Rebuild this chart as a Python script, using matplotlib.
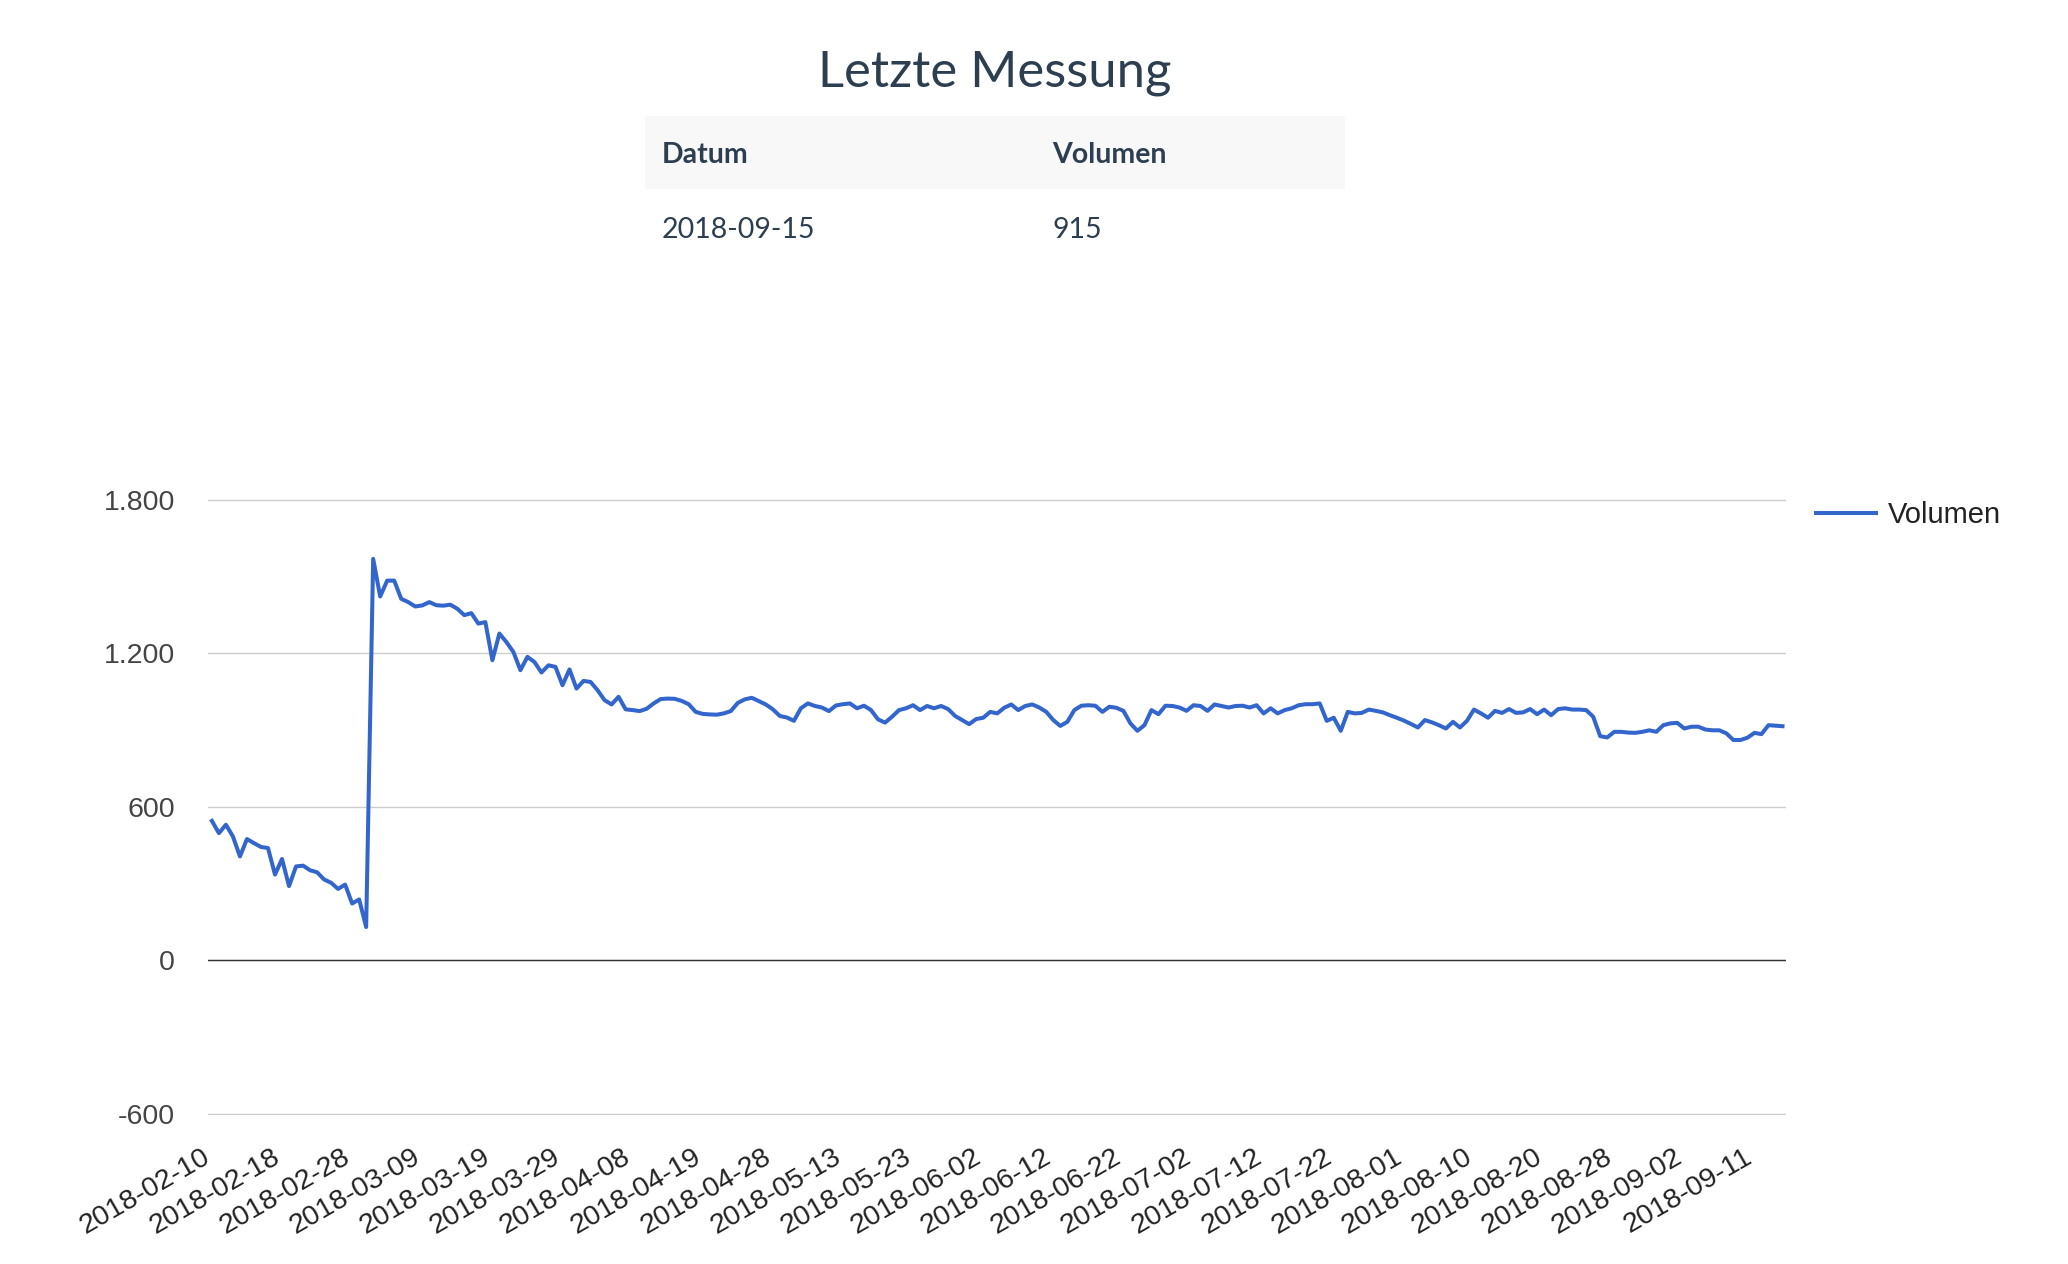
import numpy as np
import matplotlib.pyplot as plt
from matplotlib.patches import Rectangle
from matplotlib.transforms import ScaledTranslation

volumen = [
    545, 497, 530, 484, 406, 474, 458, 443, 439, 335,
    396, 290, 367, 370, 352, 344, 316, 303, 279, 296,
    222, 238, 130, 1569, 1422, 1484, 1484, 1413, 1400, 1383,
    1387, 1400, 1388, 1386, 1390, 1374, 1349, 1357, 1316, 1322,
    1173, 1277, 1244, 1205, 1134, 1186, 1166, 1125, 1153, 1147,
    1075, 1137, 1062, 1092, 1088, 1056, 1017, 1000, 1030, 981,
    978, 974, 983, 1004, 1021, 1023, 1022, 1014, 1001, 971,
    963, 961, 960, 965, 974, 1006, 1020, 1026, 1013, 1000,
    981, 955, 949, 936, 985, 1004, 994, 988, 974, 996,
    1001, 1004, 985, 995, 978, 942, 929, 952, 978, 985,
    997, 978, 994, 985, 994, 982, 955, 939, 923, 943,
    948, 971, 965, 987, 1000, 978, 994, 1000, 988, 971,
    939, 916, 932, 978, 995, 997, 995, 971, 991, 987,
    975, 926, 897, 919, 978, 962, 995, 994, 988, 975,
    997, 994, 975, 1000, 994, 988, 994, 995, 988, 997,
    965, 985, 965, 978, 985, 997, 1001, 1001, 1004, 936,
    948, 897, 971, 965, 967, 980, 975, 969, 958, 948,
    937, 924, 910, 939, 930, 919, 906, 932, 910, 936,
    980, 965, 948, 975, 967, 982, 967, 969, 982, 962,
    980, 958, 982, 985, 980, 980, 978, 952, 876, 871,
    893, 893, 890, 889, 893, 899, 893, 919, 926, 928,
    906, 913, 913, 902, 899, 899, 887, 861, 861, 870,
    889, 884, 919, 917, 915,
]

# every 10th measurement gets a date label on the axis
tick_labels = [
    '2018-02-10', '2018-02-18', '2018-02-28', '2018-03-09', '2018-03-19',
    '2018-03-29', '2018-04-08', '2018-04-19', '2018-04-28', '2018-05-13',
    '2018-05-23', '2018-06-02', '2018-06-12', '2018-06-22', '2018-07-02',
    '2018-07-12', '2018-07-22', '2018-08-01', '2018-08-10', '2018-08-20',
    '2018-08-28', '2018-09-02', '2018-09-11',
]
y_ticks = [-600, 0, 600, 1200, 1800]

last_date = '2018-09-15'
last_value = 915

title_color = '#2c3e50'
line_color = '#3366cc'
W, H = 2068, 1264

fig = plt.figure(figsize=(W / 100, H / 100), dpi=100)

# --- header: title + small table ---
fig.text(995 / W, 1 - 86 / H, 'Letzte Messung', family='Lato', fontsize=36.5,
         color=title_color, ha='center', va='baseline')
fig.patches.append(Rectangle((645 / W, 1 - 189 / H), 700 / W, 73 / H,
                             transform=fig.transFigure, facecolor='#f8f8f8',
                             edgecolor='none'))
fig.text(662 / W, 1 - 163 / H, 'Datum', family='Lato', weight='bold', fontsize=20.5,
         color=title_color, va='baseline')
fig.text(1052 / W, 1 - 163 / H, 'Volumen', family='Lato', weight='bold', fontsize=20.5,
         color=title_color, va='baseline')
fig.text(662 / W, 1 - 238 / H, last_date, family='Lato', fontsize=20.5,
         color=title_color, va='baseline')
fig.text(1052 / W, 1 - 238 / H, str(last_value), family='Lato', fontsize=20.5,
         color=title_color, va='baseline')

# --- line chart ---
ax = fig.add_axes([208.4 / W, 1 - 1114.6 / H, (1786 - 208.4) / W, (1114.6 - 499) / H])
x = np.arange(len(volumen))
ax.plot(x, volumen, color=line_color, lw=2.9, solid_joinstyle='round', label='Volumen')

ax.set_xlim(-0.5, len(volumen) - 0.5)
ax.set_ylim(-603, 1803)
ax.set_yticks(y_ticks)
ax.set_yticklabels([f'{v:,}'.replace(',', '.') for v in y_ticks],
                   family='Liberation Sans', fontsize=20.5, color='#444444')
ax.set_xticks(x[::10])
ax.set_xticklabels(tick_labels, rotation=30, ha='right', rotation_mode='anchor',
                   family='Liberation Sans', fontsize=20.5, color='#222222')
ax.tick_params(axis='y', length=0, pad=24)
ax.tick_params(axis='x', length=0, pad=21)
shift = ScaledTranslation(-7.5 / 72, 0, fig.dpi_scale_trans)
for lbl in ax.get_xticklabels():
    lbl.set_transform(lbl.get_transform() + shift)

ax.grid(axis='y', color='#cccccc', lw=1.0)
ax.axhline(0, color='#333333', lw=1.0)
for s in ax.spines.values():
    s.set_visible(False)
ax.set_axisbelow(True)

ax.legend(loc='upper left', bbox_to_anchor=(1816 / W, 1 - 501 / H),
          bbox_transform=fig.transFigure, frameon=False, borderpad=0,
          borderaxespad=0, handlelength=2.05, handletextpad=0.42,
          prop={'family': 'Liberation Sans', 'size': 21}, labelcolor='#222222')

fig.savefig('out.png', dpi=100)
